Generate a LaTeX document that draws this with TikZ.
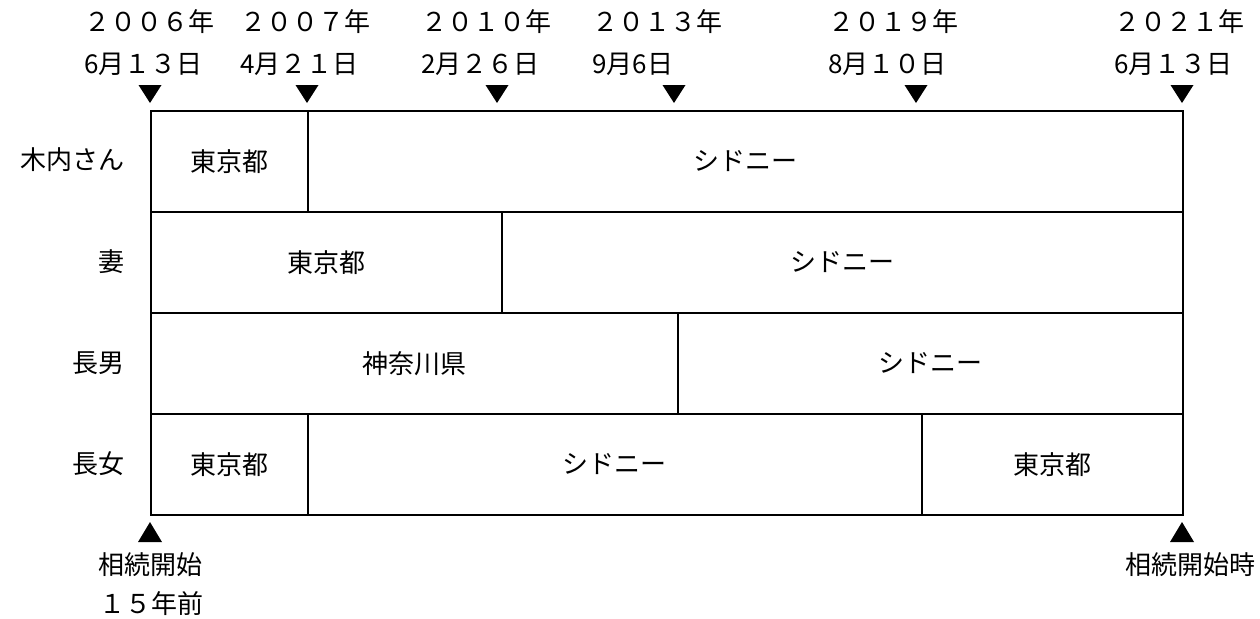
\documentclass[tikz,border=0pt]{standalone}
\usepackage{fontspec}
\setmainfont{Noto Sans CJK JP}
\begin{document}
\begin{tikzpicture}[x=1pt,y=-1pt,
  every node/.style={font=\fontsize{26}{30}\selectfont, inner sep=0pt},
  cell/.style={draw, line width=1.6pt, minimum height=101pt, anchor=north west},
  tri/.style={fill=black},
  rowlab/.style={anchor=east},
  datelab/.style={anchor=west, align=left}]
\useasboundingbox (0,0) rectangle (1260,618);
% cells row 1
\node[cell, minimum width=157pt] (a1) at (150,110) {};
\node[cell, minimum width=875pt] (a2) at (307,110) {};
% row 2
\node[cell, minimum width=351pt] (b1) at (150,211) {};
\node[cell, minimum width=681pt] (b2) at (501,211) {};
% row 3
\node[cell, minimum width=527pt] (c1) at (150,312) {};
\node[cell, minimum width=505pt] (c2) at (677,312) {};
% row 4
\node[cell, minimum width=157pt] (d1) at (150,413) {};
\node[cell, minimum width=614pt] (d2) at (307,413) {};
\node[cell, minimum width=261pt] (d3) at (921,413) {};
% cell texts
\node at (a1.center) {東京都};
\node at (a2.center) {シドニー};
\node at (b1.center) {東京都};
\node at (b2.center) {シドニー};
\node at (c1.center) {神奈川県};
\node at (c2.center) {シドニー};
\node at (d1.center) {東京都};
\node at (d2.center) {シドニー};
\node at (d3.center) {東京都};
% row labels
\node[rowlab] (r1) at (125,160) {木内さん};
\node[rowlab] (r2) at (125,262) {妻};
\node[rowlab] (r3) at (125,363) {長男};
\node[rowlab] (r4) at (125,464) {長女};
% top triangles
\foreach \x in {150,307,497,674,916,1182}{
  \fill[tri] (\x-11.5,85) -- (\x+11.5,85) -- (\x,103) -- cycle;
}
% bottom triangles
\foreach \x in {150,1182}{
  \fill[tri] (\x-12,542) -- (\x+12,542) -- (\x,522) -- cycle;
}
% date labels
\node[datelab] (t1a) at (84,22) {２００６年};
\node[datelab] (t1b) at (84,64) {6月１３日};
\node[datelab] (t2a) at (240,22) {２００７年};
\node[datelab] (t2b) at (240,64) {4月２１日};
\node[datelab] (t3a) at (421,22) {２０１０年};
\node[datelab] (t3b) at (421,64) {2月２６日};
\node[datelab] (t4a) at (592,22) {２０１３年};
\node[datelab] (t4b) at (592,64) {9月6日};
\node[datelab] (t5a) at (828,22) {２０１９年};
\node[datelab] (t5b) at (828,64) {8月１０日};
\node[datelab] (t6a) at (1114,22) {２０２１年};
\node[datelab] (t6b) at (1114,64) {6月１３日};
% bottom labels
\node (s1) at (150,565) {相続開始};
\node (s2) at (151,604) {１５年前};
\node (e1) at (1190,565) {相続開始時};
\end{tikzpicture}
\end{document}
